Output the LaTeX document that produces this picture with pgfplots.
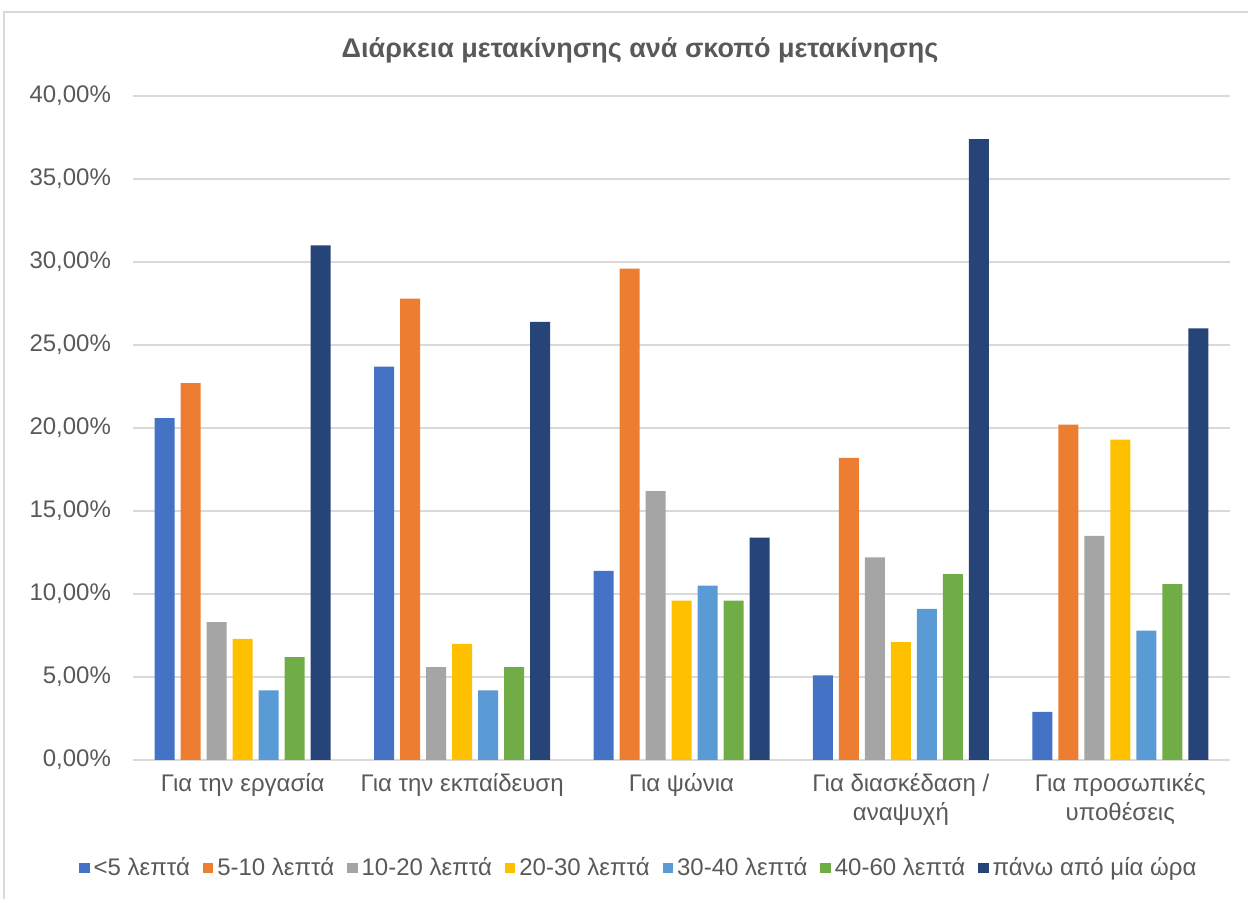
\documentclass[border=0pt]{standalone}
\usepackage{pgfplots}
\pgfplotsset{compat=1.18}
\usepackage{pgfplotstable}
\usepackage{fontspec}
\setmainfont{Liberation Sans}

\definecolor{cA}{HTML}{4472C4}
\definecolor{cB}{HTML}{ED7D31}
\definecolor{cC}{HTML}{A5A5A5}
\definecolor{cD}{HTML}{FFC000}
\definecolor{cE}{HTML}{5B9BD5}
\definecolor{cF}{HTML}{70AD47}
\definecolor{cG}{HTML}{264478}
\definecolor{gridgray}{HTML}{D9D9D9}
\definecolor{txt}{HTML}{595959}

% group  <5  5-10  10-20  20-30  30-40  40-60  >1h
\pgfplotstableread{
x  a     b     c     d     e     f     g
0  20.6  22.7  8.3   7.3   4.2   6.2   31.0
1  23.7  27.8  5.6   7.0   4.2   5.6   26.4
2  11.4  29.6  16.2  9.6   10.5  9.6   13.4
3  5.1   18.2  12.2  7.1   9.1   11.2  37.4
4  2.9   20.2  13.5  19.3  7.8   10.6  26.0
}\trips

\begin{document}
\begin{tikzpicture}[x=1pt,y=1pt]
\useasboundingbox (0,0) rectangle (624,449.5);
\draw[gridgray, line width=0.75pt] (2,0) -- (2,443.5) -- (624,443.5);
\node[font=\bfseries\fontsize{13.5}{16}\selectfont, text=txt] at (320,424.5)
    {Διάρκεια μετακίνησης ανά σκοπό μετακίνησης};
\begin{axis}[
    at={(66.5pt,69.5pt)}, anchor=south west,
    scale only axis,
    width=548.5pt, height=332pt,
    ybar=3pt, bar width=10pt,
    xmin=-0.5, xmax=4.5,
    ymin=0, ymax=40,
    xtick={0,1,2,3,4},
    xticklabels={Για την εργασία, Για την εκπαίδευση, Για ψώνια,
        {Για διασκέδαση /\\αναψυχή}, {Για προσωπικές\\υποθέσεις}},
    ytick={0,5,...,40},
    yticklabel={\pgfmathprintnumber[fixed,fixed zerofill,precision=2,use comma]{\tick}\%},
    /pgf/number format/assume math mode=true,
    major tick length=0pt,
    axis x line*=bottom, axis y line*=left,
    x axis line style={draw=gridgray, line width=0.75pt, -},
    y axis line style={draw=none},
    ymajorgrids,
    grid style={draw=gridgray, line width=0.75pt},
    tick label style={font=\fontsize{12}{14.5}\selectfont, text=txt},
    xticklabel style={align=center, yshift=-3pt},
    yticklabel style={xshift=-7.5pt},
    legend columns=7,
    legend style={draw=none, at={(0.462,-0.163)}, anchor=center,
        font=\fontsize{12}{14.5}\selectfont, text=txt,
        /tikz/every even column/.append style={column sep=4.5pt}},
    legend image code/.code={\fill[#1] (0pt,-2.6pt) rectangle (5.2pt,2.6pt);},
    every axis plot/.append style={draw=none},
]
\addplot[fill=cA] table[x=x,y=a]{\trips};
\addplot[fill=cB] table[x=x,y=b]{\trips};
\addplot[fill=cC] table[x=x,y=c]{\trips};
\addplot[fill=cD] table[x=x,y=d]{\trips};
\addplot[fill=cE] table[x=x,y=e]{\trips};
\addplot[fill=cF] table[x=x,y=f]{\trips};
\addplot[fill=cG] table[x=x,y=g]{\trips};
\legend{<5 λεπτά, 5-10 λεπτά, 10-20 λεπτά, 20-30 λεπτά, 30-40 λεπτά, 40-60 λεπτά, πάνω από μία ώρα}
\end{axis}
\end{tikzpicture}
\end{document}
